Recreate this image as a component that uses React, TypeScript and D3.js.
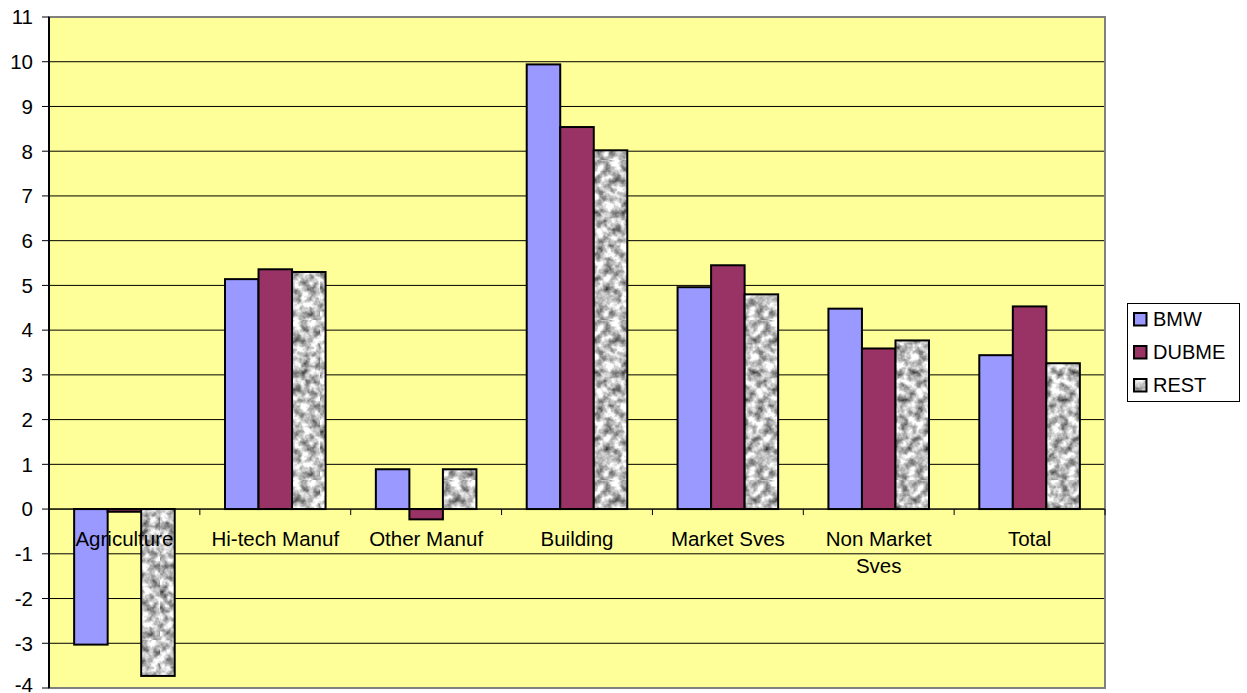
import React from "react";
import * as d3 from "d3";

const categories = ["Agriculture", "Hi-tech Manuf", "Other Manuf", "Building", "Market Sves", "Non Market|Sves", "Total"];
const seriesNames = ["BMW", "DUBME", "REST"];
const bmw = [-3.03, 5.14, 0.89, 9.94, 4.96, 4.48, 3.44];
const dubme = [-0.06, 5.36, -0.23, 8.54, 5.45, 3.59, 4.53];
const rest = [-3.73, 5.3, 0.89, 8.02, 4.8, 3.77, 3.26];
const yTicks = [-4, -3, -2, -1, 0, 1, 2, 3, 4, 5, 6, 7, 8, 9, 10, 11];

const W = 1247;
const H = 693;
const left = 49;
const right = 1105;
const top = 17;
const bottom = 688;
const FONT = "Arial, 'Liberation Sans', sans-serif";

export default function App() {
  const series = [bmw, dubme, rest];
  const fills = ["#9999FF", "#993366", "url(#restPat)"];
  const x = d3.scaleBand<string>().domain(categories).range([left, right]).paddingInner(0).paddingOuter(0);
  const bw = x.bandwidth();
  const barW = bw / 4.5;
  const y = d3.scaleLinear().domain([-4, 11]).range([bottom, top]);
  const y0 = y(0);

  return (
    <svg width={W} height={H} style={{ position: "absolute", left: 0, top: 0 }} fontFamily={FONT}>
      <defs>
        <filter
          id="granite"
          x="0"
          y="0"
          width="160"
          height="160"
          filterUnits="userSpaceOnUse"
          colorInterpolationFilters="sRGB"
        >
          <feTurbulence type="fractalNoise" baseFrequency="0.12" numOctaves="3" seed="7" />
          <feColorMatrix
            type="matrix"
            values="1.3 0 0 0 0.1  1.3 0 0 0 0.1  1.3 0 0 0 0.1  0 0 0 0 1"
          />
        </filter>
        <pattern id="restPat" patternUnits="userSpaceOnUse" width="160" height="160">
          <rect x="0" y="0" width="160" height="160" fill="#c8c8c8" filter="url(#granite)" />
        </pattern>
      </defs>
      <rect x={0} y={0} width={W} height={H} fill="#ffffff" />
      <rect x={left} y={top} width={right - left} height={bottom - top} fill="#FFFF99" />
      {yTicks.map((t) => (
        <line key={"g" + t} x1={left} x2={right} y1={y(t)} y2={y(t)} stroke="#000" strokeWidth={1} />
      ))}
      <rect x={left} y={top} width={right - left} height={bottom - top} fill="none" stroke="#808080" strokeWidth={2} />
      {categories.map((c, ci) => (
        <g key={c}>
          {series.map((s, si) => {
            const v = s[ci];
            const bx = (x(c) as number) + bw * (0.75 / 4.5) + si * barW;
            const yt = Math.min(y(v), y0);
            const h = Math.abs(y(v) - y0);
            return (
              <rect key={si} x={bx} y={yt} width={barW} height={h} fill={fills[si]} stroke="#000" strokeWidth={2} />
            );
          })}
        </g>
      ))}
      <line x1={left} x2={right} y1={y0} y2={y0} stroke="#000" strokeWidth={1} />
      {categories.map((c) => (
        <line key={"t" + c} x1={x(c) as number} x2={x(c) as number} y1={y0} y2={y0 + 6} stroke="#000" strokeWidth={1} />
      ))}
      <line x1={right} x2={right} y1={y0} y2={y0 + 6} stroke="#000" strokeWidth={1} />
      {categories.map((c) => {
        const lines = c.split("|");
        const cx = (x(c) as number) + bw / 2;
        return (
          <text key={"l" + c} x={cx} y={y0 + 37} textAnchor="middle" fontSize={20.5} fill="#000">
            {lines.map((ln, i) => (
              <tspan key={i} x={cx} dy={i === 0 ? 0 : 27}>
                {ln}
              </tspan>
            ))}
          </text>
        );
      })}
      <line x1={left} x2={left} y1={top} y2={bottom} stroke="#000" strokeWidth={2} />
      {yTicks.map((t) => (
        <g key={"y" + t}>
          <line x1={left - 7} x2={left} y1={y(t)} y2={y(t)} stroke="#000" strokeWidth={1} />
          <text x={33} y={Math.min(y(t) + 7.3, 692)} textAnchor="end" fontSize={20.5} fill="#000">
            {t}
          </text>
        </g>
      ))}
      <rect x={1127.5} y={303.5} width={112} height={98} fill="#fff" stroke="#000" strokeWidth={1} />
      {seriesNames.map((n, i) => (
        <g key={n}>
          <rect x={1134} y={313 + i * 33} width={12.5} height={12.5} fill={fills[i]} stroke="#000" strokeWidth={2} />
          <text x={1153} y={326 + i * 33} fontSize={20} fill="#000">
            {n}
          </text>
        </g>
      ))}
    </svg>
  );
}
